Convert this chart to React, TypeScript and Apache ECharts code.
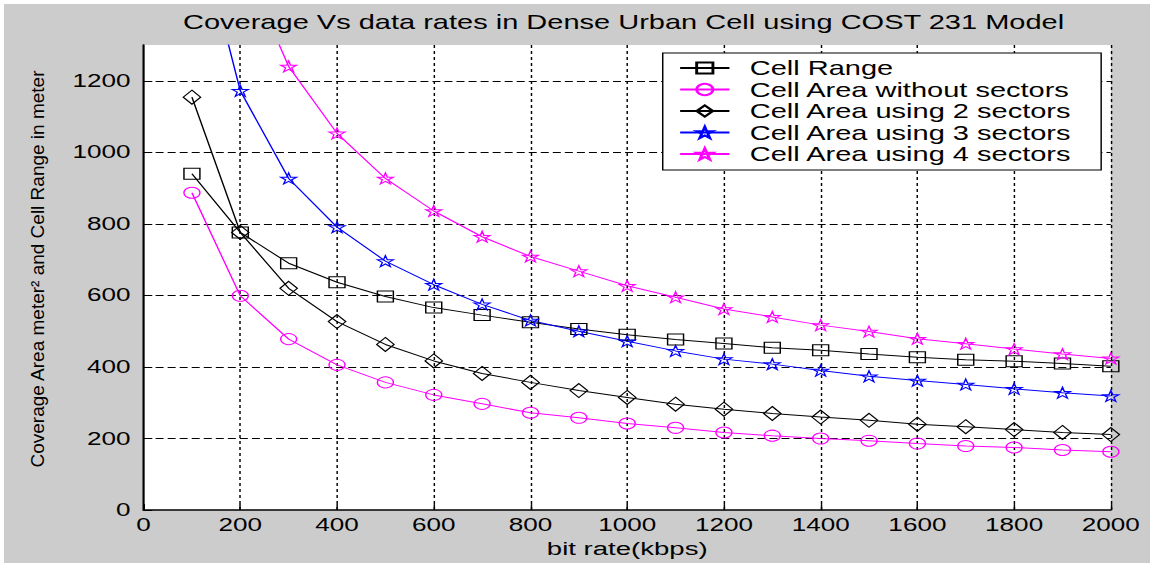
import React, { useEffect, useRef } from "react";
import * as echarts from "echarts";

// ---- data ----
const bitRates = [100, 200, 300, 400, 500, 600, 700, 800, 900, 1000, 1100, 1200, 1300, 1400, 1500, 1600, 1700, 1800, 1900, 2000];
const cellRange = [940, 776, 690, 637, 597, 566, 545, 525, 506, 490, 477, 466, 454, 447, 436, 427, 420, 416, 410, 402];
const areaNoSectors = [887, 599, 478, 406, 357, 322, 297, 272, 258, 242, 230, 217, 208, 200, 194, 186, 179, 175, 168, 163];
const area2Sectors = [1154, 776, 620, 527, 463, 417, 382, 357, 334, 315, 296, 282, 270, 260, 251, 240, 233, 225, 217, 211];
const area3Sectors = [1700, 1172, 927, 791, 696, 630, 575, 530, 500, 472, 445, 422, 408, 390, 374, 362, 351, 339, 328, 319];
const area4Sectors = [2300, 1550, 1240, 1053, 927, 836, 764, 709, 668, 627, 595, 562, 540, 517, 499, 479, 465, 450, 436, 424];

const seriesNames = [
  "Cell Range",
  "Cell Area without sectors",
  "Cell Area using 2 sectors",
  "Cell Area using 3 sectors",
  "Cell Area using 4 sectors",
];

const titleText = "Coverage Vs data rates in Dense Urban Cell using COST 231 Model";
const xName = "bit rate(kbps)";
const yName = "Coverage Area meter\u00B2 and Cell Range in meter";

const OUTER_W = 1150;
const H = 563;
const INNER_W = 793;
const STRETCH = OUTER_W / INNER_W;

const STAR =
  "path://M0,-10L2.245,-3.09L9.511,-3.09L3.633,1.18L5.878,8.09L0,3.82L-5.878,8.09L-3.633,1.18L-9.511,-3.09L-2.245,-3.09Z";

export default function App() {
  const ref = useRef<HTMLDivElement>(null);

  useEffect(() => {
    if (!ref.current) return;
    const chart = echarts.init(ref.current, null, { renderer: "svg", width: INNER_W, height: H });
    const font = "Liberation Sans, Arial, sans-serif";
    const pair = (ys: number[]) => bitRates.map((x, i) => [x, ys[i]]);
    const mk = (name: string, ys: number[], color: string, symbol: string, size: any) => ({
      name,
      type: "line",
      data: pair(ys),
      symbol,
      symbolSize: size,
      showSymbol: true,
      clip: true,
      lineStyle: { color, width: 1 },
      itemStyle: { color: "rgba(255,255,255,0)", borderColor: color, borderWidth: 1 },
      emphasis: { disabled: true },
    });

    chart.setOption({
      animation: false,
      backgroundColor: "transparent",
      textStyle: { fontFamily: font },
      title: {
        text: titleText,
        left: 430,
        top: 12,
        textAlign: "center",
        padding: 0,
        textStyle: { fontSize: 20, fontWeight: "normal", color: "#000", fontFamily: font },
      },
      grid: {
        left: 99,
        right: 27,
        top: 45,
        bottom: 50,
        show: true,
        backgroundColor: "#ffffff",
        borderWidth: 0,
      },
      legend: {
        orient: "vertical",
        left: 457,
        top: 53,
        padding: [5, 20, 6, 11],
        itemWidth: 34,
        itemHeight: 14,
        itemGap: 1.5,
        backgroundColor: "#ffffff",
        borderColor: "#000",
        borderWidth: 1,
        selectedMode: false,
        data: seriesNames,
        textStyle: { fontSize: 20, color: "#000", fontFamily: font, padding: [0, 0, 0, 9] },
      },
      xAxis: {
        type: "value",
        min: 0,
        max: 2000,
        interval: 200,
        name: xName,
        nameLocation: "middle",
        nameGap: 25,
        nameTextStyle: { fontSize: 19, color: "#000", fontFamily: font },
        axisLine: { show: true, lineStyle: { color: "#000", width: 1.5 } },
        axisTick: { show: true, inside: true, length: 6, lineStyle: { color: "#000" } },
        axisLabel: { color: "#000", fontSize: 18, margin: 6, fontFamily: font, formatter: (v: number) => String(v) },
        splitLine: {
          show: true,
          showMinLine: false,
          showMaxLine: true,
          lineStyle: { color: "#000", width: 1, type: [3, 3] },
        },
      },
      yAxis: {
        type: "value",
        min: 0,
        max: 1300,
        interval: 200,
        axisLine: { show: true, lineStyle: { color: "#000", width: 1.5 } },
        axisTick: { show: true, inside: true, length: 6, lineStyle: { color: "#000" } },
        axisLabel: {
          color: "#000",
          fontSize: 18,
          margin: 9,
          fontFamily: font,
          showMaxLabel: false,
          formatter: (v: number) => (v > 1200 ? "" : String(v)),
        },
        splitLine: {
          show: true,
          showMinLine: false,
          showMaxLine: false,
          lineStyle: { color: "#000", width: 1, type: [5.5, 2.8] },
        },
      },
      graphic: [
        {
          type: "text",
          x: 26,
          y: 269,
          rotation: Math.PI / 2,
          scaleY: 1 / STRETCH,
          style: {
            text: yName,
            font: "19px Liberation Sans, Arial, sans-serif",
            fill: "#000",
            align: "center",
            verticalAlign: "middle",
          },
        },
      ],
      series: [
        mk(seriesNames[0], cellRange, "#000000", "rect", 11),
        mk(seriesNames[1], areaNoSectors, "#ff00ff", "circle", 11),
        mk(seriesNames[2], area2Sectors, "#000000", "diamond", [12, 14]),
        mk(seriesNames[3], area3Sectors, "#0000ff", STAR, 11),
        mk(seriesNames[4], area4Sectors, "#ff00ff", STAR, 11),
      ],
    });

    return () => chart.dispose();
  }, []);

  return (
    <div style={{ position: "fixed", left: 0, top: 0, width: OUTER_W, height: H, background: "#ffffff", overflow: "hidden" }}>
      <div style={{ position: "absolute", left: 4, top: 4, right: 0, bottom: 0, background: "#cccccc" }} />
      <div
        ref={ref}
        style={{
          position: "absolute",
          left: 0,
          top: 0,
          width: INNER_W,
          height: H,
          transform: `scaleX(${STRETCH})`,
          transformOrigin: "0 0",
        }}
      />
    </div>
  );
}
